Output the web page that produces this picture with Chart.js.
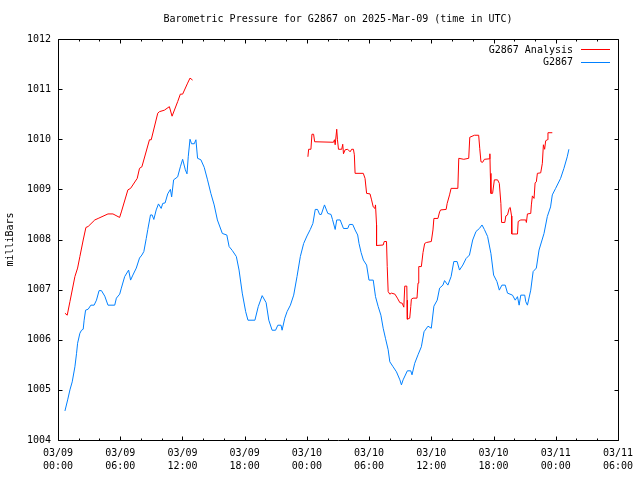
<!DOCTYPE html>
<html>
<head>
<meta charset="utf-8">
<script src="https://cdn.jsdelivr.net/npm/chart.js@4/dist/chart.umd.min.js"></script>
<style>
  body { margin: 0; background: #fff; }
  canvas { display: block; }
</style>
</head>
<body>
<canvas id="baro" width="640" height="480"></canvas>
<script>
// hours since 2025-03-09 00:00 UTC, pressure in mb
const analysisHours = [0.67,0.89,1.15,1.63,1.89,2.11,2.43,2.69,2.91,3.55,3.87,4.82,5.30,5.94,6.11,6.74,7.00,7.64,7.86,8.09,8.82,8.99,9.62,9.78,10.26,10.74,11.00,11.54,11.80,12.02,12.50,12.73,12.98,
  null,
  24.10,24.17,24.39,24.49,24.65,24.75,26.57,26.66,26.73,26.88,26.95,27.05,27.36,27.46,27.53,27.69,27.94,28.17,28.32,28.49,28.58,28.65,29.44,29.61,29.76,30.09,30.24,30.40,30.57,30.62,30.72,30.72,31.36,31.46,31.68,31.75,31.84,32.00,32.16,32.49,32.73,32.97,33.19,33.35,33.44,33.64,33.66,33.69,33.92,34.02,34.08,34.24,34.62,34.72,34.79,35.04,35.20,35.36,35.52,36.00,36.16,36.25,36.64,36.80,36.90,37.43,37.53,37.76,37.91,38.56,38.65,39.13,39.61,39.71,40.16,40.57,40.67,40.79,40.95,41.12,41.60,41.65,41.69,41.75,41.91,42.08,42.39,42.56,42.71,42.78,43.09,43.19,43.35,43.51,43.61,43.74,43.76,44.31,44.38,44.63,45.11,45.17,45.27,45.59,45.65,45.75,45.91,46.01,46.13,46.23,46.55,46.71,46.81,46.93,47.03,47.19,47.25,47.67];
const analysisValues = [1006.53,1006.49,1006.76,1007.26,1007.43,1007.66,1007.99,1008.24,1008.26,1008.39,1008.42,1008.51,1008.51,1008.44,1008.55,1008.99,1009.02,1009.22,1009.42,1009.45,1009.99,1009.99,1010.52,1010.55,1010.58,1010.65,1010.46,1010.75,1010.90,1010.90,1011.12,1011.22,1011.18,
  null,
  1009.65,1009.80,1009.80,1010.10,1010.10,1009.95,1009.94,1009.99,1009.89,1010.20,1009.99,1009.80,1009.80,1009.90,1009.71,1009.79,1009.80,1009.75,1009.80,1009.80,1009.69,1009.32,1009.32,1009.22,1008.92,1008.91,1008.79,1008.65,1008.62,1008.69,1008.29,1007.88,1007.89,1007.96,1007.96,1007.46,1006.96,1006.91,1006.93,1006.91,1006.83,1006.74,1006.73,1006.65,1007.07,1007.07,1006.79,1006.41,1006.43,1006.66,1006.81,1006.83,1006.83,1007.13,1007.46,1007.46,1007.74,1007.92,1007.94,1007.96,1008.19,1008.42,1008.42,1008.55,1008.59,1008.60,1008.72,1008.89,1009.02,1009.02,1009.62,1009.60,1009.62,1010.04,1010.08,1010.08,1009.82,1009.55,1009.54,1009.60,1009.61,1009.71,1009.32,1008.92,1008.92,1009.19,1009.19,1009.12,1008.72,1008.34,1008.34,1008.47,1008.49,1008.62,1008.64,1008.47,1008.11,1008.11,1008.36,1008.39,1008.39,1008.34,1008.51,1008.52,1008.69,1008.87,1008.82,1009.13,1009.15,1009.32,1009.33,1009.52,1009.89,1009.80,1009.97,1009.99,1010.13,1010.13];

const obsHours = [0.67,0.93,1.15,1.37,1.63,1.79,1.89,2.11,2.27,2.43,2.52,2.66,2.91,3.17,3.48,3.71,3.96,4.19,4.51,4.82,5.47,5.63,5.95,6.11,6.43,6.81,7.00,7.22,7.55,7.86,8.09,8.28,8.51,8.66,8.92,9.08,9.24,9.47,9.69,9.95,10.10,10.33,10.58,10.84,10.96,11.15,11.54,11.80,12.02,12.28,12.44,12.56,12.73,12.88,13.14,13.30,13.46,13.78,14.10,14.42,14.74,15.06,15.37,15.85,16.28,16.50,16.81,17.20,17.46,17.77,18.10,18.32,18.99,19.31,19.69,20.07,20.33,20.65,20.98,21.20,21.51,21.61,21.87,22.09,22.41,22.73,23.05,23.37,23.69,24.01,24.33,24.58,24.81,25.03,25.23,25.39,25.70,26.02,26.33,26.47,26.73,26.88,27.21,27.53,27.94,28.10,28.42,28.65,28.90,29.03,29.23,29.45,29.76,29.99,30.40,30.62,30.88,31.14,31.36,31.58,31.84,32.00,32.32,32.64,32.97,33.12,33.28,33.69,34.02,34.14,34.40,34.72,35.04,35.30,35.68,36.00,36.25,36.57,36.80,37.12,37.28,37.60,37.91,38.17,38.49,38.72,39.04,39.35,39.68,39.99,40.31,40.64,40.89,41.12,41.43,41.75,42.01,42.33,42.56,42.81,43.13,43.35,43.83,44.09,44.31,44.47,44.63,45.01,45.11,45.27,45.59,45.82,46.13,46.39,46.87,47.19,47.50,47.67,47.99,48.47,48.79,49.11,49.27];
const obsValues = [1004.58,1004.80,1005.00,1005.16,1005.46,1005.73,1005.93,1006.13,1006.19,1006.21,1006.39,1006.59,1006.61,1006.69,1006.69,1006.79,1006.98,1006.98,1006.87,1006.69,1006.69,1006.83,1006.91,1007.03,1007.26,1007.39,1007.19,1007.29,1007.43,1007.63,1007.69,1007.76,1008.02,1008.20,1008.49,1008.49,1008.40,1008.59,1008.71,1008.62,1008.72,1008.73,1008.91,1009.00,1008.85,1009.19,1009.25,1009.45,1009.60,1009.39,1009.31,1009.65,1010.00,1009.91,1009.91,1009.99,1009.62,1009.59,1009.44,1009.19,1008.92,1008.69,1008.39,1008.12,1008.09,1007.86,1007.78,1007.66,1007.39,1006.93,1006.56,1006.39,1006.39,1006.66,1006.88,1006.74,1006.39,1006.19,1006.19,1006.29,1006.29,1006.19,1006.43,1006.56,1006.69,1006.89,1007.26,1007.66,1007.92,1008.07,1008.20,1008.32,1008.60,1008.60,1008.50,1008.50,1008.69,1008.52,1008.50,1008.40,1008.20,1008.39,1008.39,1008.22,1008.22,1008.30,1008.30,1008.19,1008.09,1007.92,1007.74,1007.59,1007.49,1007.19,1007.19,1006.86,1006.66,1006.49,1006.23,1006.03,1005.80,1005.56,1005.46,1005.36,1005.20,1005.10,1005.20,1005.38,1005.38,1005.30,1005.53,1005.70,1005.86,1006.16,1006.27,1006.23,1006.67,1006.79,1007.03,1007.09,1007.18,1007.09,1007.26,1007.56,1007.56,1007.39,1007.49,1007.62,1007.69,1007.99,1008.16,1008.22,1008.29,1008.20,1008.06,1007.72,1007.29,1007.16,1006.99,1007.09,1007.09,1006.93,1006.89,1006.79,1006.86,1006.69,1006.89,1006.89,1006.76,1006.69,1006.99,1007.36,1007.43,1007.79,1008.12,1008.46,1008.65,1008.89,1009.02,1009.22,1009.42,1009.65,1009.80];

const seriesNames = ['G2867 Analysis', 'G2867'];
const seriesColors = ['#ff0000', '#0080ff'];
const yTicks = [1004, 1005, 1006, 1007, 1008, 1009, 1010, 1011, 1012];
const xMax = 54;

const FONT = '10px "DejaVu Sans Mono"';

function pts(hs, vs) {
  return hs.map((h, i) => ({ x: h, y: vs[i] }));
}

function tickLabel(h) {
  const day = 9 + Math.floor(h / 24);
  const hr = h % 24;
  const p = n => String(n).padStart(2, '0');
  return ['03/' + p(day), p(hr) + ':00'];
}

// frame, inward ticks, title, axis label, legend
const gnuplotLook = {
  id: 'gnuplotLook',
  afterDatasetsDraw(chart) {
    const { ctx, chartArea: a, scales: { x, y } } = chart;
    const L = Math.round(a.left) + 0.5, R = Math.round(a.right) + 0.5;
    const T = Math.round(a.top) + 0.5, B = Math.round(a.bottom) + 0.5;
    ctx.save();
    ctx.strokeStyle = '#000';
    ctx.lineWidth = 1;
    ctx.beginPath();
    ctx.moveTo(L, T); ctx.lineTo(R, T); ctx.lineTo(R, B); ctx.lineTo(L, B); ctx.closePath();
    for (let h = 0; h <= xMax; h += 2) {
      const px = Math.round(x.getPixelForValue(h)) + 0.5;
      const len = h % 6 === 0 ? 4 : 2;
      ctx.moveTo(px, B); ctx.lineTo(px, B - len);
      ctx.moveTo(px, T); ctx.lineTo(px, T + len);
    }
    yTicks.forEach(v => {
      const py = Math.round(y.getPixelForValue(v)) + 0.5;
      ctx.moveTo(L, py); ctx.lineTo(L + 4, py);
      ctx.moveTo(R, py); ctx.lineTo(R - 4, py);
    });
    ctx.stroke();

    ctx.fillStyle = '#000';
    ctx.font = FONT;
    ctx.textAlign = 'center';
    ctx.textBaseline = 'middle';
    ctx.fillText('Barometric Pressure for G2867 on 2025-Mar-09 (time in UTC)', (a.left + a.right) / 2, 19);

    ctx.save();
    ctx.translate(10, (a.top + a.bottom) / 2);
    ctx.rotate(-Math.PI / 2);
    ctx.fillText('milliBars', 0, 0);
    ctx.restore();

    ctx.textAlign = 'right';
    seriesNames.forEach((name, i) => {
      const ly = 50 + i * 12.5;
      ctx.fillStyle = '#000';
      ctx.fillText(name, 573, ly);
      ctx.strokeStyle = seriesColors[i];
      ctx.beginPath();
      ctx.moveTo(581, Math.round(ly) - 0.5);
      ctx.lineTo(610, Math.round(ly) - 0.5);
      ctx.stroke();
    });
    ctx.restore();
  }
};

new Chart(document.getElementById('baro'), {
  type: 'line',
  data: {
    datasets: [
      { label: seriesNames[0], data: pts(analysisHours, analysisValues), borderColor: seriesColors[0], borderWidth: 1, pointRadius: 0, tension: 0, spanGaps: false },
      { label: seriesNames[1], data: pts(obsHours, obsValues), borderColor: seriesColors[1], borderWidth: 1, pointRadius: 0, tension: 0 }
    ]
  },
  options: {
    responsive: false,
    animation: false,
    devicePixelRatio: 1,
    layout: { padding: { top: 39, right: 19, left: 0, bottom: 0 } },
    scales: {
      x: {
        type: 'linear',
        min: 0,
        max: xMax,
        afterFit(s) { s.height = 40; },
        grid: { display: false, drawTicks: false },
        border: { display: false },
        ticks: {
          stepSize: 6,
          autoSkip: false,
          maxRotation: 0,
          padding: 7,
          color: '#000',
          font: { family: 'DejaVu Sans Mono', size: 10, lineHeight: 1.3 },
          callback: v => tickLabel(v)
        }
      },
      y: {
        min: 1004,
        max: 1012,
        afterFit(s) { s.width = 58; },
        grid: { display: false, drawTicks: false },
        border: { display: false },
        ticks: {
          stepSize: 1,
          padding: 7,
          color: '#000',
          font: { family: 'DejaVu Sans Mono', size: 10 },
          callback: v => String(v)
        }
      }
    },
    plugins: {
      legend: { display: false },
      tooltip: { enabled: false }
    }
  },
  plugins: [gnuplotLook]
});
</script>
</body>
</html>
